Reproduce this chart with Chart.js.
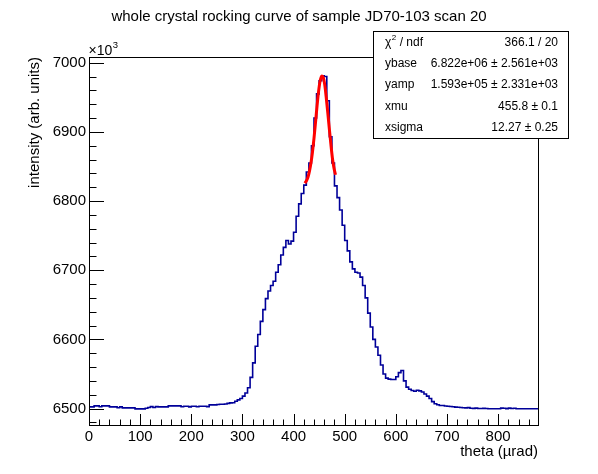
<!DOCTYPE html>
<html><head><meta charset="utf-8">
<script src="https://cdn.jsdelivr.net/npm/chart.js@4"></script>
<style>html,body{margin:0;padding:0;background:#fff;}canvas{display:block;}</style>
</head><body>
<canvas id="c" width="598" height="474"></canvas>
<script>
// ---- data (intensity in units of 10^3) ----
const binWidth = 5;
const xMin = 0, xMax = 878;
const yMin = 6476.2, yMax = 7008.3;
const counts = [
6502.4,6502.4,6503.8,6503.8,6502.6,6503.8,6503.8,6503.8,6502.4,6502.4,
6502.4,6501.2,6502.4,6501.0,6501.0,6501.0,6501.0,6501.0,6499.5,6499.5,
6499.5,6499.5,6500.5,6501.4,6502.8,6501.4,6502.8,6502.4,6502.4,6502.4,
6502.4,6503.8,6503.8,6503.8,6503.8,6503.8,6502.6,6503.4,6503.4,6502.4,
6503.4,6503.4,6502.6,6503.4,6503.4,6503.4,6502.8,6505.3,6505.3,6505.3,
6505.8,6506.2,6506.2,6506.6,6507.5,6508.2,6508.4,6510.6,6512.5,6514.5,
6518.0,6522.5,6530.0,6545.0,6566.0,6590.0,6607.0,6626.0,6643.0,6659.0,
6670.0,6678.0,6684.0,6697.0,6708.0,6722.0,6733.0,6743.0,6738.0,6742.0,
6755.0,6778.0,6796.0,6811.0,6823.0,6842.0,6855.0,6880.0,6920.0,6955.0,
6974.0,6981.0,6980.0,6945.0,6893.0,6855.0,6822.0,6805.0,6787.0,6765.0,
6743.0,6728.0,6712.0,6702.0,6697.0,6696.0,6690.0,6678.0,6660.0,6638.0,
6618.0,6600.0,6589.0,6577.0,6563.0,6550.0,6544.0,6542.5,6542.0,6542.0,
6546.0,6552.0,6555.0,6540.0,6531.0,6528.0,6526.0,6525.0,6526.4,6525.5,
6524.0,6521.0,6518.0,6514.5,6510.0,6507.0,6505.5,6504.5,6504.3,6503.6,
6503.3,6503.0,6502.5,6502.0,6501.8,6501.5,6501.2,6501.0,6501.3,6500.5,
6500.2,6500.6,6500.0,6500.0,6500.3,6500.0,6499.8,6499.8,6499.8,6499.8,
6499.8,6500.6,6500.4,6499.9,6500.6,6500.0,6500.5,6499.8,6499.8,6499.8,
6499.7,6499.7,6499.7,6499.6,6499.6,6499.6
];
const fitTheta = [422,425,428,431,434,437,440,443,446,449,452,455,458,461,464,467,470,473,476,479,482];
const fitValues = [6826,6829,6834,6843,6855,6871,6891,6914,6938,6959,6974,6981,6979,6968,6949,6927,6904,6882,6862,6848,6838];
const xTickValues = [0,100,200,300,400,500,600,700,800];
const yTickValues = [6500,6600,6700,6800,6900,7000];
const titleText = "whole crystal rocking curve of sample JD70-103 scan 20";
const xTitle = "theta (\u00B5rad)";
const yTitle = "intensity (arb. units)";
const statLabels = ["\u03C7", "ybase", "yamp", "xmu", "xsigma"];
const statValues = ["366.1 / 20", "6.822e+06 \u00B1 2.561e+03", "1.593e+05 \u00B1 2.331e+03", "455.8 \u00B1 0.1", "12.27 \u00B1 0.25"];

const FONT = '"Liberation Sans", Arial, Helvetica, sans-serif';

const histPoints = counts.map((v, i) => ({x: i * binWidth, y: v}));
histPoints.push({x: xMax, y: counts[counts.length - 1]});
const fitPoints = fitTheta.map((t, i) => ({x: t, y: fitValues[i]}));

const decor = {
  id: 'decor',
  afterDraw(chart) {
    const ctx = chart.ctx;
    const a = chart.chartArea;
    const xs = chart.scales.x, ys = chart.scales.y;
    ctx.save();
    ctx.strokeStyle = '#000';
    ctx.lineWidth = 1;
    // frame
    ctx.strokeRect(Math.round(a.left) + 0.5, Math.round(a.top) + 0.5,
                   Math.round(a.right - a.left), Math.round(a.bottom - a.top));
    // x ticks (inward)
    ctx.beginPath();
    for (let v = xMin; v <= xMax; v += 20) {
      const px = Math.round(xs.getPixelForValue(v)) + 0.5;
      const len = (v % 100 === 0) ? 11 : 5.5;
      ctx.moveTo(px, a.bottom);
      ctx.lineTo(px, a.bottom - len);
    }
    // y ticks (inward)
    for (let v = 6480; v <= yMax; v += 20) {
      const py = Math.round(ys.getPixelForValue(v)) + 0.5;
      const len = (v % 100 === 0) ? 15 : 7.5;
      ctx.moveTo(a.left, py);
      ctx.lineTo(a.left + len, py);
    }
    ctx.stroke();
    // title
    ctx.fillStyle = '#000';
    ctx.font = '15px ' + FONT;
    ctx.textAlign = 'center';
    ctx.textBaseline = 'alphabetic';
    ctx.fillText(titleText, 299, 20.5);
    // x10^3
    ctx.textAlign = 'left';
    ctx.font = '14px ' + FONT;
    ctx.fillText('\u00D710', a.left - 0.5, 55);
    const w10 = ctx.measureText('\u00D710').width;
    ctx.font = '9.5px ' + FONT;
    ctx.fillText('3', a.left + w10, 48);
    // stats box
    const bx = 373.5, by = 31.5, bw = 195, bh = 107;
    ctx.fillStyle = '#fff';
    ctx.fillRect(bx, by, bw, bh);
    ctx.strokeRect(bx, by, bw, bh);
    ctx.fillStyle = '#000';
    ctx.textBaseline = 'middle';
    const rowH = bh / statLabels.length;
    for (let i = 0; i < statLabels.length; i++) {
      const cy = by + rowH * (i + 0.5);
      ctx.font = '12px ' + FONT;
      ctx.textAlign = 'left';
      if (i === 0) {
        ctx.fillText(statLabels[0], 385, cy);
        const wc = ctx.measureText(statLabels[0]).width;
        ctx.font = '8px ' + FONT;
        ctx.fillText('2', 385 + wc + 0.5, cy - 4);
        ctx.font = '12px ' + FONT;
        ctx.fillText(' / ndf', 385 + wc + 5, cy);
      } else {
        ctx.fillText(statLabels[i], 385, cy);
      }
      ctx.textAlign = 'right';
      ctx.fillText(statValues[i], 558, cy);
    }
    ctx.restore();
  }
};

new Chart(document.getElementById('c'), {
  type: 'line',
  data: {
    datasets: [
      {
        label: 'histogram',
        data: histPoints,
        stepped: true,
        borderColor: '#000099',
        borderWidth: 1.6,
        pointRadius: 0,
        fill: false,
        order: 2
      },
      {
        label: 'fit',
        data: fitPoints,
        borderColor: '#ff0000',
        borderWidth: 3,
        pointRadius: 0,
        cubicInterpolationMode: 'monotone',
        fill: false,
        order: 1
      }
    ]
  },
  options: {
    responsive: false,
    animation: false,
    events: [],
    layout: {padding: {left: 0, top: 57, right: 60, bottom: 0}},
    plugins: {legend: {display: false}, tooltip: {enabled: false}, title: {display: false}},
    scales: {
      x: {
        type: 'linear',
        min: xMin, max: xMax,
        afterFit: s => { s.height = 49; },
        afterBuildTicks: s => { s.ticks = xTickValues.map(v => ({value: v})); },
        grid: {display: false, drawTicks: false},
        border: {display: false},
        ticks: {color: '#000', font: {family: FONT, size: 15}, padding: 3, maxRotation: 0, autoSkip: false,
                callback: v => String(v)},
        title: {display: true, text: xTitle, align: 'end', color: '#000',
                font: {family: FONT, size: 15}, padding: {top: 0, bottom: 13}}
      },
      y: {
        type: 'linear',
        min: yMin, max: yMax,
        afterFit: s => { s.width = 89; },
        afterBuildTicks: s => { s.ticks = yTickValues.map(v => ({value: v})); },
        grid: {display: false, drawTicks: false},
        border: {display: false},
        ticks: {color: '#000', font: {family: FONT, size: 15}, padding: 3, autoSkip: false,
                callback: v => String(v)},
        title: {display: true, text: yTitle, align: 'end', color: '#000',
                font: {family: FONT, size: 15}, padding: {top: 26, bottom: 0}}
      }
    }
  },
  plugins: [decor]
});
</script>
</body></html>
